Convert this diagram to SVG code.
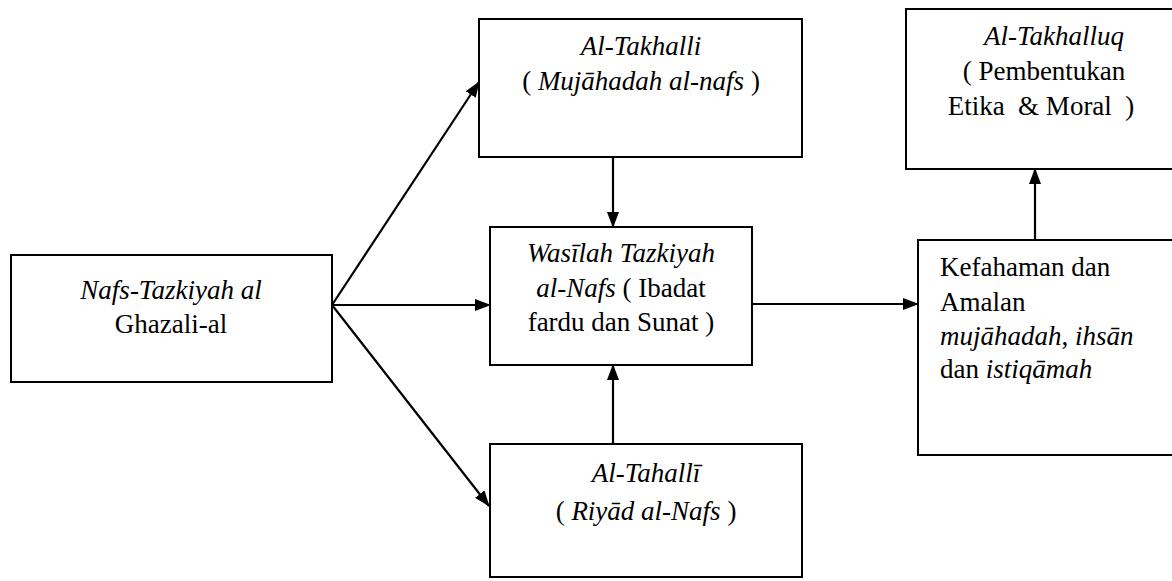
<svg xmlns="http://www.w3.org/2000/svg" width="1172" height="581" viewBox="0 0 1172 581">
<defs>
<marker id="ah" markerUnits="userSpaceOnUse" markerWidth="16" markerHeight="12" refX="15" refY="6" orient="auto">
<path d="M0,0 L16,6 L0,12 z" fill="#000"/>
</marker>
</defs>
<rect width="1172" height="581" fill="#fff"/>
<g id="connectors" stroke="#000" stroke-width="2.2" fill="none">
<line x1="332" y1="305" x2="479" y2="82" marker-end="url(#ah)"/>
<line x1="332" y1="305" x2="490" y2="305" marker-end="url(#ah)"/>
<line x1="332" y1="305" x2="489" y2="506" marker-end="url(#ah)"/>
<line x1="613" y1="157" x2="613" y2="227" marker-end="url(#ah)"/>
<line x1="613" y1="444" x2="613" y2="365" marker-end="url(#ah)"/>
<line x1="752" y1="304" x2="918" y2="304" marker-end="url(#ah)"/>
<line x1="1035" y1="240" x2="1035" y2="169" marker-end="url(#ah)"/>
</g>
<g id="n-nafs">
<rect x="11" y="255" width="321" height="127" fill="#fff" stroke="#000" stroke-width="2"/>
<text font-family="Liberation Serif" font-size="27" text-anchor="middle" font-style="italic" x="171" y="299">Nafs-Tazkiyah al</text>
<text font-family="Liberation Serif" font-size="27" text-anchor="middle" x="171" y="333">Ghazali-al</text>
</g>
<g id="n-takhalli">
<rect x="479" y="19" width="323" height="138" fill="#fff" stroke="#000" stroke-width="2"/>
<text font-family="Liberation Serif" font-size="27" text-anchor="middle" font-style="italic" x="641" y="55">Al-Takhalli</text>
<text font-family="Liberation Serif" font-size="27" text-anchor="middle" x="641" y="90">( <tspan font-style="italic">Mujāhadah al-nafs</tspan> )</text>
</g>
<g id="n-wasilah">
<rect x="490" y="227" width="262" height="138" fill="#fff" stroke="#000" stroke-width="2"/>
<text font-family="Liberation Serif" font-size="27" text-anchor="middle" font-style="italic" x="621" y="262">Wasīlah Tazkiyah</text>
<text font-family="Liberation Serif" font-size="27" text-anchor="middle" x="621" y="297"><tspan font-style="italic">al-Nafs</tspan> ( Ibadat</text>
<text font-family="Liberation Serif" font-size="27" text-anchor="middle" x="621" y="331">fardu dan Sunat )</text>
</g>
<g id="n-tahalli">
<rect x="490" y="444" width="312" height="133" fill="#fff" stroke="#000" stroke-width="2"/>
<text font-family="Liberation Serif" font-size="27" text-anchor="middle" font-style="italic" x="646" y="482">Al-Tahallī</text>
<text font-family="Liberation Serif" font-size="27" text-anchor="middle" x="646" y="520">( <tspan font-style="italic">Riyād al-Nafs</tspan> )</text>
</g>
<g id="n-takhalluq">
<rect x="906" y="9" width="280" height="160" fill="#fff" stroke="#000" stroke-width="2"/>
<text font-family="Liberation Serif" font-size="27" text-anchor="middle" font-style="italic" x="1054" y="45">Al-Takhalluq</text>
<text font-family="Liberation Serif" font-size="27" text-anchor="middle" x="1044" y="80">( Pembentukan</text>
<text font-family="Liberation Serif" font-size="27" text-anchor="middle" x="1041" y="115">Etika &#160;&amp; Moral &#160;)</text>
</g>
<g id="n-kefahaman">
<rect x="918" y="240" width="268" height="215" fill="#fff" stroke="#000" stroke-width="2"/>
<text font-family="Liberation Serif" font-size="27" x="940" y="276">Kefahaman dan</text>
<text font-family="Liberation Serif" font-size="27" x="940" y="311">Amalan</text>
<text font-family="Liberation Serif" font-size="27" x="940" y="345"><tspan font-style="italic">mujāhadah</tspan>, <tspan font-style="italic">ihsān</tspan></text>
<text font-family="Liberation Serif" font-size="27" x="940" y="378">dan <tspan font-style="italic">istiqāmah</tspan></text>
</g>
</svg>
